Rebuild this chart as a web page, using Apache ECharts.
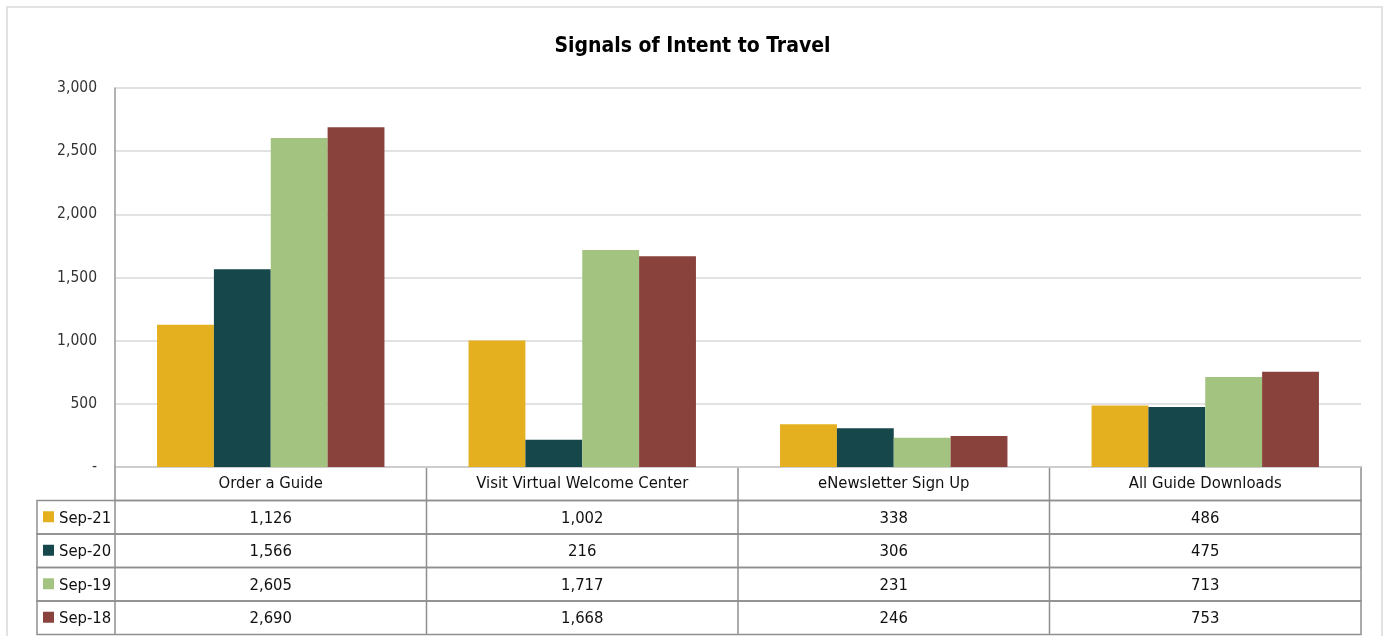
<!DOCTYPE html>
<html>
<head>
<meta charset="utf-8">
<script src="https://cdn.jsdelivr.net/npm/echarts@6/dist/echarts.min.js"></script>
<style>
    html, body { margin: 0; padding: 0; background: #fff; }
    #chart { width: 1385px; height: 636px; }
</style>
</head>
<body>
<div id="chart"></div>
<script>
var categories = ['Order a Guide', 'Visit Virtual Welcome Center', 'eNewsletter Sign Up', 'All Guide Downloads'];
var seriesNames = ['Sep-21', 'Sep-20', 'Sep-19', 'Sep-18'];
var sep21 = [1126, 1002, 338, 486];
var sep20 = [1566, 216, 306, 475];
var sep19 = [2605, 1717, 231, 713];
var sep18 = [2690, 1668, 246, 753];
var yTicks = [0, 500, 1000, 1500, 2000, 2500, 3000];
var colors = ['#E5B020', '#16474B', '#A2C480', '#8A423D'];

var seriesData = [sep21, sep20, sep19, sep18];
var font = '"Liberation Sans Narrow", "DejaVu Sans Condensed", "Liberation Sans", sans-serif';

// layout of the plot + data table
var plotLeft = 115, plotRight = 1361, plotTop = 88, plotBottom = 467;
var rowH = 33.5, keyLeft = 37;
var colW = (plotRight - plotLeft) / categories.length;
var lineColor = '#8f8f8f';

function fmt(v) {
    return v.toLocaleString('en-US');
}

var graphic = [];
// outer frame
graphic.push({
    type: 'rect', shape: { x: 7, y: 7, width: 1375, height: 640 },
    style: { fill: 'none', stroke: '#d9d9d9', lineWidth: 1.5 }, silent: true
});

// header row
graphic.push({
    type: 'rect', shape: { x: plotLeft, y: plotBottom, width: plotRight - plotLeft, height: rowH },
    style: { fill: 'none', stroke: lineColor, lineWidth: 1.5 }
});
categories.forEach(function (c, i) {
    graphic.push({
        type: 'text', x: plotLeft + colW * (i + 0.5), y: plotBottom + rowH / 2,
        style: { text: c, font: '16.5px ' + font, fill: '#111', align: 'center', verticalAlign: 'middle' }
    });
    if (i > 0) {
        graphic.push({
            type: 'line', shape: { x1: plotLeft + colW * i, y1: plotBottom, x2: plotLeft + colW * i, y2: plotBottom + rowH * 5 },
            style: { stroke: lineColor, lineWidth: 1.5 }
        });
    }
});

// data rows
seriesNames.forEach(function (name, r) {
    var top = plotBottom + rowH * (r + 1);
    graphic.push({
        type: 'rect', shape: { x: keyLeft, y: top, width: plotRight - keyLeft, height: rowH },
        style: { fill: 'none', stroke: lineColor, lineWidth: 1.5 }
    });
    graphic.push({
        type: 'line', shape: { x1: plotLeft, y1: top, x2: plotLeft, y2: top + rowH },
        style: { stroke: lineColor, lineWidth: 1.5 }
    });
    graphic.push({
        type: 'rect', shape: { x: keyLeft + 6, y: top + rowH / 2 - 6, width: 11, height: 11 },
        style: { fill: colors[r] }
    });
    graphic.push({
        type: 'text', x: keyLeft + 22, y: top + rowH / 2 + 1,
        style: { text: name, font: '16.5px ' + font, fill: '#111', align: 'left', verticalAlign: 'middle' }
    });
    seriesData[r].forEach(function (v, i) {
        graphic.push({
            type: 'text', x: plotLeft + colW * (i + 0.5), y: top + rowH / 2 + 1,
            style: { text: fmt(v), font: '16.5px ' + font, fill: '#111', align: 'center', verticalAlign: 'middle' }
        });
    });
});

var series = seriesNames.map(function (name, i) {
    return {
        name: name,
        type: 'bar',
        data: seriesData[i],
        barGap: '0%',
        barCategoryGap: '27%',
        itemStyle: { color: colors[i] },
        animation: false
    };
});

var option = {
    animation: false,
    title: {
        text: 'Signals of Intent to Travel',
        left: 'center',
        top: 31,
        textStyle: { fontFamily: font, fontSize: 21, fontWeight: 'bold', color: '#000' }
    },
    grid: {
        left: plotLeft,
        right: 1385 - plotRight,
        top: plotTop,
        bottom: 636 - plotBottom
    },
    xAxis: {
        type: 'category',
        data: categories,
        axisLine: { show: false },
        axisTick: { show: false },
        axisLabel: { show: false }
    },
    yAxis: {
        type: 'value',
        min: yTicks[0],
        max: yTicks[yTicks.length - 1],
        interval: yTicks[1] - yTicks[0],
        axisLine: { show: true, lineStyle: { color: '#999', width: 1.5 } },
        axisTick: { show: false },
        axisLabel: {
            margin: 18,
            fontFamily: font,
            fontSize: 15.5,
            color: '#333',
            formatter: function (v) { return v === 0 ? '-' : fmt(v); }
        },
        splitLine: { lineStyle: { color: '#d9d9d9', width: 1.5 } }
    },
    series: series,
    graphic: graphic
};

var chart = echarts.init(document.getElementById('chart'), null, { renderer: 'canvas' });
chart.setOption(option);
</script>
</body>
</html>
